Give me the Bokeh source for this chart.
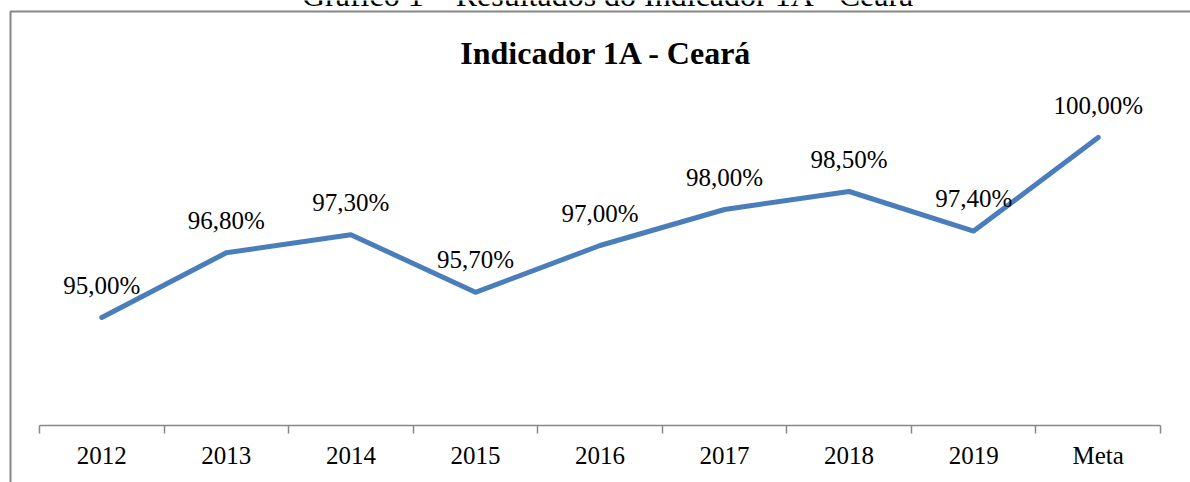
from bokeh.plotting import figure
from bokeh.models import (ColumnDataSource, Range1d, LinearAxis, FixedTicker,
                          LabelSet, Label)
from bokeh.embed import file_html
from bokeh.resources import INLINE

# ---- data ----
categories = ["2012", "2013", "2014", "2015", "2016", "2017", "2018", "2019", "Meta"]
values = [95.0, 96.8, 97.3, 95.7, 97.0, 98.0, 98.5, 97.4, 100.0]
value_labels = ["95,00%", "96,80%", "97,30%", "95,70%", "97,00%",
                "98,00%", "98,50%", "97,40%", "100,00%"]
chart_title = "Indicador 1A - Ceará"
caption = "Gráfico 1 – Resultados do Indicador 1A - Ceará"
axis_min = 92.0

# ---- layout constants (pixels) ----
W, H = 1190, 482
PLOT_L, PLOT_R = 39, 1160        # category band edges
AXIS_Y = 425                      # pixel row of the category axis
PX_PER_UNIT_Y = 36.0
BORDER_X, BORDER_Y = 10, 11

n = len(categories)
ux = (PLOT_R - PLOT_L) / n
x_start = -PLOT_L / ux
x_end = n + (W - PLOT_R) / ux
y_start = axis_min - (H - AXIS_Y) / PX_PER_UNIT_Y
y_end = axis_min + AXIS_Y / PX_PER_UNIT_Y

xs = [i + 0.5 for i in range(n)]
src = ColumnDataSource(dict(x=xs, y=values, lab=value_labels))

SERIF = "Liberation Serif"
BLUE = "#4A7EBB"
GREY = "#868686"

p = figure(width=W, height=H, output_backend="svg", toolbar_location=None,
           x_range=Range1d(x_start, x_end), y_range=Range1d(y_start, y_end),
           x_axis_type=None, y_axis_type=None, min_border=0)
p.outline_line_color = None
p.background_fill_color = "white"
p.border_fill_color = "white"
p.xgrid.visible = False
p.ygrid.visible = False

# chart-area border (left and top edges visible)
bx = x_start + BORDER_X / ux
by = y_end - BORDER_Y / PX_PER_UNIT_Y
p.line(x=[bx, bx, x_end + 1], y=[y_start - 1, by, by],
       line_color=GREY, line_width=2)

ticker = FixedTicker(ticks=xs, minor_ticks=list(range(n + 1)))
ax = LinearAxis(ticker=ticker, fixed_location=axis_min, bounds=(0, n))
ax.major_label_overrides = {x: c for x, c in zip(xs, categories)}
ax.axis_line_color = GREY
ax.axis_line_width = 1.5
ax.major_tick_line_color = None
ax.major_tick_out = 0
ax.major_tick_in = 0
ax.minor_tick_line_color = GREY
ax.minor_tick_line_width = 1.5
ax.minor_tick_out = 8
ax.minor_tick_in = 0
ax.major_label_text_font = SERIF
ax.major_label_text_font_size = "25px"
ax.major_label_text_color = "black"
ax.major_label_standoff = 8
p.add_layout(ax, "below")

p.line("x", "y", source=src, line_width=5, line_color=BLUE,
       line_join="round", line_cap="round")

labels = LabelSet(x="x", y="y", text="lab", source=src, y_offset=24,
                  text_align="center", text_baseline="alphabetic",
                  text_font=SERIF, text_font_size="25px", text_color="black")
p.add_layout(labels)

title = Label(x=606, y=52, x_units="canvas", y_units="canvas", text=chart_title,
              text_align="center", text_baseline="alphabetic",
              text_font=SERIF, text_font_style="bold", text_font_size="32px",
              text_color="black")
p.add_layout(title)

cap = Label(x=608, y=-6, x_units="canvas", y_units="canvas", text=caption,
            text_align="center", text_baseline="alphabetic",
            text_font=SERIF, text_font_size="32px", text_color="black")
p.add_layout(cap)

open("out.html", "w").write(file_html(p, INLINE))
